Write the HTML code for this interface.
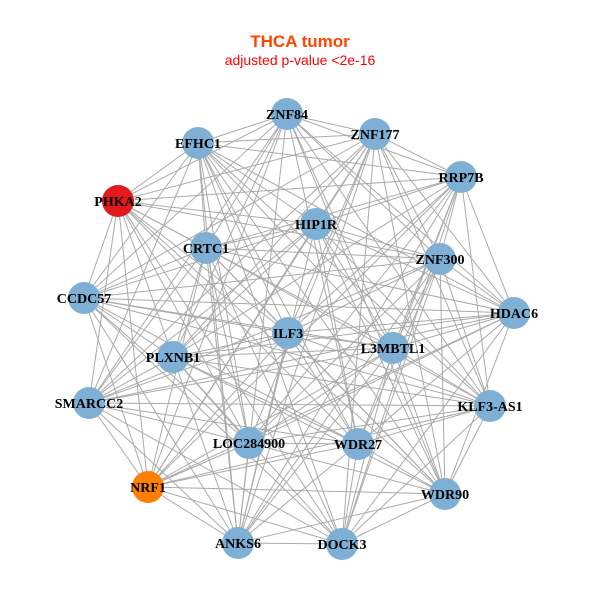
<!DOCTYPE html>
<html><head><meta charset="utf-8"><style>
html,body{margin:0;padding:0;background:#fff;}
svg{display:block;}
</style></head><body>
<svg id="s" width="600" height="600" xmlns="http://www.w3.org/2000/svg">
<rect width="600" height="600" fill="#fff"/>
<text x="300" y="47" text-anchor="middle" font-family="Liberation Sans, sans-serif" font-weight="bold" font-size="17" fill="#ff4500">THCA tumor</text>
<text x="300" y="65" text-anchor="middle" font-family="Liberation Sans, sans-serif" font-size="14" fill="#ff0000">adjusted p-value &lt;2e-16</text>
<g id="e" stroke="#aaaaaa" stroke-width="1"></g>
<g id="n"></g>
</svg>
<script>
var N=[["ZNF84",287,114],["ZNF177",375,134],["EFHC1",198,143],["RRP7B",461,177],["PHKA2",118,201,"#e31a1c"],["HIP1R",316,224],["CRTC1",206,248],["ZNF300",440,259],["CCDC57",84,298],["HDAC6",514,313],["ILF3",288,333],["L3MBTL1",393,348],["PLXNB1",173,357],["SMARCC2",89,403],["KLF3-AS1",490,406],["LOC284900",249,443],["WDR27",358,444],["NRF1",148,487,"#ff7f00"],["WDR90",445,494],["ANKS6",238,543],["DOCK3",342,544]];
var ns="http://www.w3.org/2000/svg",e=document.getElementById("e"),g=document.getElementById("n");
for(var i=0;i<N.length;i++)for(var j=i+1;j<N.length;j++){if((i*7+j*3)%5==0)continue;var l=document.createElementNS(ns,"line");l.setAttribute("x1",N[i][1]);l.setAttribute("y1",N[i][2]);l.setAttribute("x2",N[j][1]);l.setAttribute("y2",N[j][2]);e.appendChild(l);}
N.forEach(function(d){var c=document.createElementNS(ns,"circle");c.setAttribute("cx",d[1]);c.setAttribute("cy",d[2]);c.setAttribute("r",16);c.setAttribute("fill",d[3]||"#7eb0d5");g.appendChild(c);});
N.forEach(function(d){var t=document.createElementNS(ns,"text");t.setAttribute("x",d[1]);t.setAttribute("y",d[2]+5);t.setAttribute("text-anchor","middle");t.setAttribute("font-family","Liberation Serif, serif");t.setAttribute("font-weight","bold");t.setAttribute("font-size","14");t.textContent=d[0];g.appendChild(t);});
</script>
</body></html>
